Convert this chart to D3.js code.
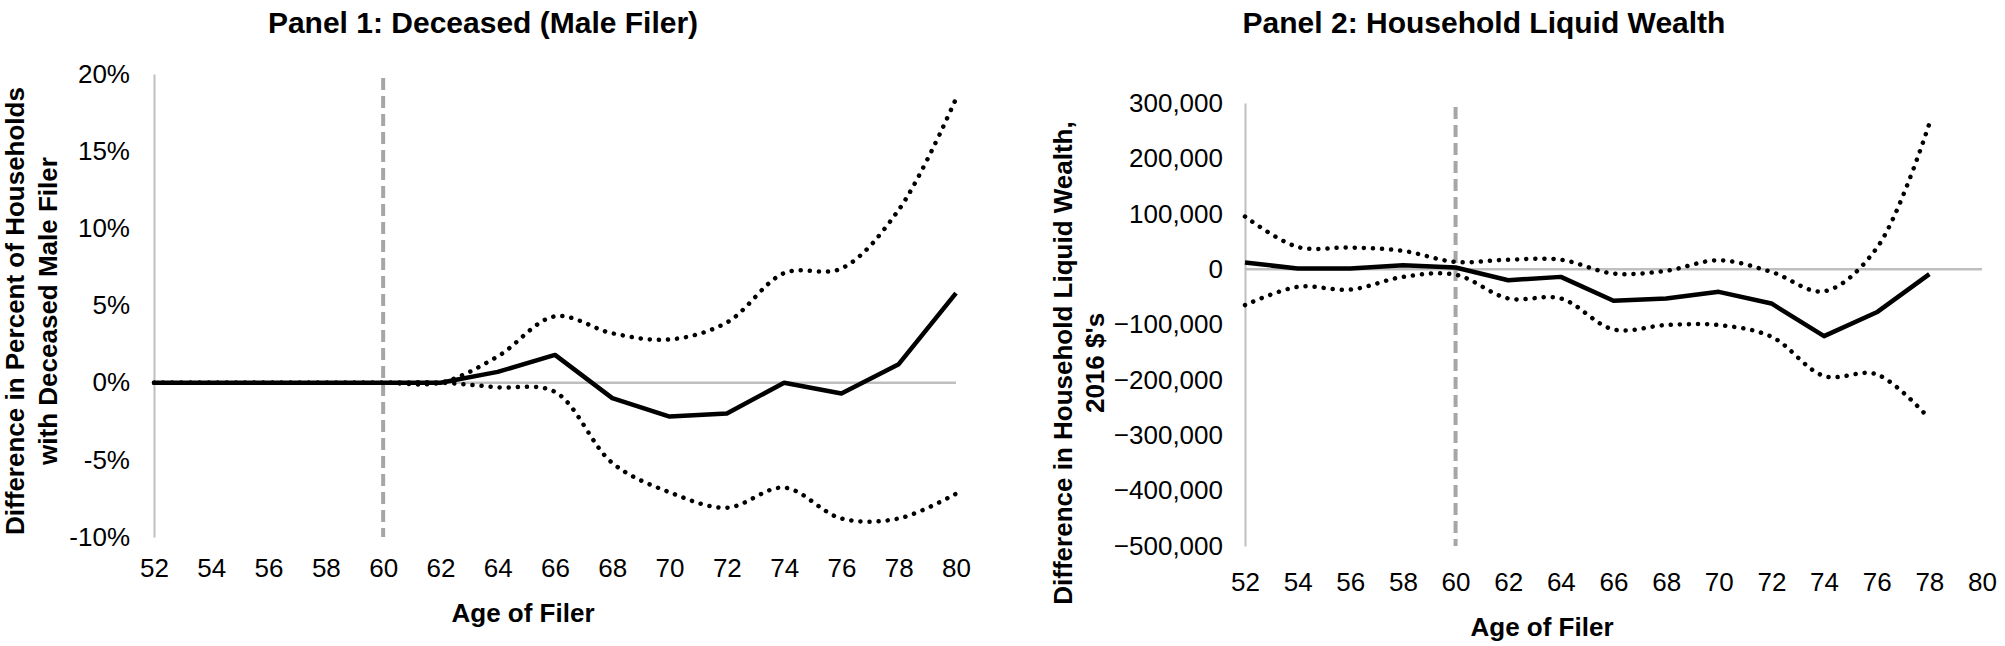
<!DOCTYPE html>
<html>
<head>
<meta charset="utf-8">
<script src="https://cdn.jsdelivr.net/npm/d3@7"></script>
<style>
  body { margin: 0; background: #fff; }
  text { font-family: "Liberation Sans", Arial, sans-serif; }
</style>
</head>
<body>
<svg></svg>
<script>
// ages on the x axis (both panels)
var ages = [52, 54, 56, 58, 60, 62, 64, 66, 68, 70, 72, 74, 76, 78, 80];

// panel 1: difference in percent of households with deceased male filer (%)
var p1Est   = [0, 0, 0, 0, 0, 0, 0.7, 1.8, -1.0, -2.2, -2.0, 0.0, -0.7, 1.2, 5.8];
var p1Upper = [0, 0, 0, 0, 0, 0, 1.7, 4.3, 3.2, 2.8, 3.9, 7.1, 7.4, 11.2, 18.4];
var p1Lower = [0, 0, 0, 0, 0, 0, -0.3, -0.6, -5.2, -7.1, -8.1, -6.8, -8.8, -8.8, -7.2];
var p1Ticks = [-10, -5, 0, 5, 10, 15, 20];

// panel 2: difference in household liquid wealth, 2016 $ (no value at 80)
var p2Est   = [12000, 1000, 1000, 7000, 3000, -20000, -14000, -57000, -53000, -41000, -62000, -121000, -78000, -9000, null];
var p2Upper = [95000, 40000, 39000, 33000, 13000, 17000, 17000, -8000, -3000, 16000, -5000, -40000, 38000, 263000, null];
var p2Lower = [-65000, -32000, -37000, -14000, -10000, -53000, -53000, -109000, -101000, -101000, -122000, -193000, -190000, -270000, null];
var p2Ticks = [-500000, -400000, -300000, -200000, -100000, 0, 100000, 200000, 300000];

var svg = d3.select('svg')
  .attr("width", 2005)
  .attr("height", 646);

drawPanel({
  title: "Panel 1: Deceased (Male Filer)", titleX: 483,
  xRange: [154, 956], yRange: [537, 74],
  est: p1Est, upper: p1Upper, lower: p1Lower, ticks: p1Ticks,
  fmt: function(d) { return d + "%"; },
  yPad: 24, xPad: 22, xTitleX: 523, xTitleY: 622,
  yTitle: ["Difference in Percent of Households", "with Deceased Male Filer"],
  yTitleX: [24, 57], yTitleY: 311
});

drawPanel({
  title: "Panel 2: Household Liquid Wealth", titleX: 1484,
  xRange: [1245, 1982], yRange: [546, 103],
  est: p2Est, upper: p2Upper, lower: p2Lower, ticks: p2Ticks,
  fmt: d3.format(","),
  yPad: 22, xPad: 27, xTitleX: 1542, xTitleY: 636,
  yTitle: ["Difference in Household  Liquid Wealth,", "2016 $'s"],
  yTitleX: [1072, 1104], yTitleY: 363
});

function drawPanel(p) {
  var x = d3.scaleLinear().domain([52, 80]).range(p.xRange);
  var y = d3.scaleLinear().domain(d3.extent(p.ticks)).range(p.yRange);
  var g = svg.append("g");

  g.append("text")
    .attr("x", p.titleX).attr("y", 33)
    .attr("text-anchor", "middle")
    .attr("font-size", 30).attr("font-weight", "bold")
    .text(p.title);

  // zero line
  g.append("line")
    .attr("x1", x(52)).attr("x2", x(80))
    .attr("y1", y(0)).attr("y2", y(0))
    .attr("stroke", "#bfbfbf").attr("stroke-width", 2.5);

  var yAxis = g.append("g")
    .attr("transform", "translate(" + x(52) + ",0)")
    .call(d3.axisLeft(y).tickValues(p.ticks).tickSize(0).tickPadding(p.yPad).tickFormat(p.fmt));
  yAxis.select(".domain").attr("stroke", "#bfbfbf").attr("stroke-width", 2);
  yAxis.selectAll("text").attr("font-size", 26).attr("fill", "#000")
    .style("font-family", "'Liberation Sans', Arial, sans-serif");

  var xAxis = g.append("g")
    .attr("transform", "translate(0," + p.yRange[0] + ")")
    .call(d3.axisBottom(x).tickValues(ages).tickSize(0).tickPadding(p.xPad));
  xAxis.select(".domain").remove();
  xAxis.selectAll("text").attr("font-size", 26).attr("fill", "#000")
    .style("font-family", "'Liberation Sans', Arial, sans-serif");

  // vertical dashed marker at age 60
  g.append("line")
    .attr("x1", x(60)).attr("x2", x(60))
    .attr("y1", p.yRange[1] + 4).attr("y2", p.yRange[0])
    .attr("stroke", "#a6a6a6").attr("stroke-width", 4)
    .attr("stroke-dasharray", "12 6");

  var straight = d3.line()
    .defined(function(d) { return d[1] != null; })
    .x(function(d) { return x(d[0]); })
    .y(function(d) { return y(d[1]); });

  var smooth = d3.line()
    .defined(function(d) { return d[1] != null; })
    .curve(d3.curveCatmullRom.alpha(0.5))
    .x(function(d) { return x(d[0]); })
    .y(function(d) { return y(d[1]); });

  [p.upper, p.lower].forEach(function(s) {
    g.append("path")
      .datum(d3.zip(ages, s))
      .attr("fill", "none")
      .attr("stroke", "#000")
      .attr("stroke-width", 4.5)
      .attr("stroke-linecap", "round")
      .attr("stroke-dasharray", "0.1 9")
      .attr("d", smooth);
  });

  g.append("path")
    .datum(d3.zip(ages, p.est))
    .attr("fill", "none")
    .attr("stroke", "#000")
    .attr("stroke-width", 4.5)
    .attr("stroke-linejoin", "round")
    .attr("d", straight);

  g.append("text")
    .attr("x", p.xTitleX).attr("y", p.xTitleY)
    .attr("text-anchor", "middle")
    .attr("font-size", 26).attr("font-weight", "bold")
    .text("Age  of Filer");

  p.yTitle.forEach(function(t, i) {
    g.append("text")
      .attr("transform", "translate(" + p.yTitleX[i] + "," + p.yTitleY + ") rotate(-90)")
      .attr("text-anchor", "middle")
      .attr("font-size", 26).attr("font-weight", "bold")
      .text(t);
  });
}
</script>
</body>
</html>
